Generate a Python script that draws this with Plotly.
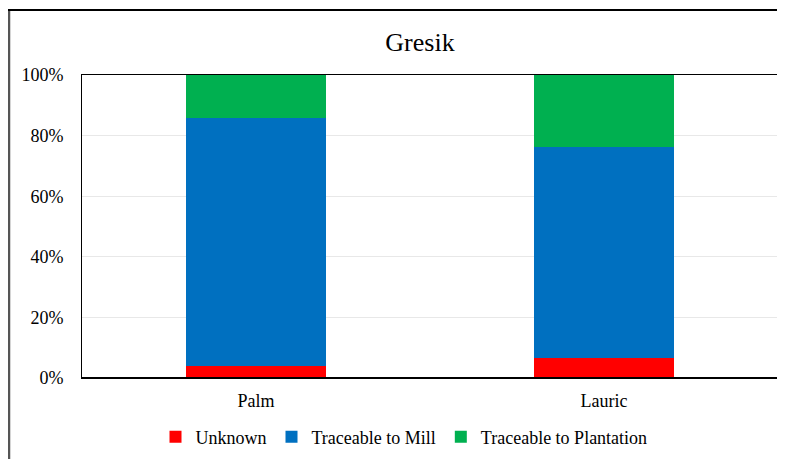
import plotly.graph_objects as go

categories = ["Palm", "Lauric"]
unknown = [4.0, 6.7]
traceable_mill = [81.8, 69.4]
traceable_plantation = [14.2, 23.9]

series_names = ["Unknown", "Traceable to Mill", "Traceable to Plantation"]
series_colors = ["#FF0000", "#0070C0", "#00B050"]
series_values = [unknown, traceable_mill, traceable_plantation]

# page body has an 8px margin, so the figure is placed 8px in
W, H = 777, 451
ML, MR, MT, MB = 74, 7, 67, 81
PW = W - ML - MR
PH = H - MT - MB

fig = go.Figure()
for name, color, vals in zip(series_names, series_colors, series_values):
    fig.add_trace(go.Bar(
        x=categories, y=vals, name=name,
        marker=dict(color=color, line=dict(width=0)),
        width=0.4,
    ))

font_family = "Liberation Serif"

fig.update_layout(
    width=W, height=H,
    barmode="stack",
    margin=dict(l=ML, r=MR, t=MT, b=MB),
    paper_bgcolor="white",
    plot_bgcolor="white",
    font=dict(family=font_family, size=18, color="#000000"),
    title=dict(text="Gresik", x=(412 - ML) / PW, xref="paper", xanchor="center",
               y=1 - 34 / H, yanchor="middle", font=dict(size=26, family=font_family)),
    showlegend=True,
    legend=dict(orientation="h", x=(396 - ML) / PW, xanchor="center", xref="paper",
                y=1 - 429 / H, yanchor="middle", yref="container",
                font=dict(size=18, family=font_family), traceorder="normal", itemwidth=30),
    xaxis=dict(showline=True, linecolor="#000000", linewidth=1, mirror=True,
               ticks="", showgrid=False, tickfont=dict(size=18, family=font_family),
               ticklabelstandoff=6),
    yaxis=dict(range=[0, 100], tickvals=[0, 20, 40, 60, 80, 100],
               ticktext=["0%", "20%", "40%", "60%", "80%", "100%"],
               showgrid=True, gridcolor="#E8E8E8", gridwidth=1,
               showline=True, linecolor="#000000", linewidth=1, mirror=True,
               ticks="", zeroline=False, tickfont=dict(size=18, family=font_family),
               ticklabelstandoff=14),
)

# bottom axis emphasized line
fig.add_shape(type="line", xref="paper", yref="paper", x0=0, x1=1, y0=0, y1=0,
              line=dict(color="#000000", width=2))
# outer chart border (left and top)
fig.add_shape(type="line", xref="paper", yref="paper",
              x0=(1 - ML) / PW, x1=(1 - ML) / PW,
              y0=-(MB + 5) / PH, y1=1 + (MT - 2) / PH,
              line=dict(color="#555555", width=2.5))
fig.add_shape(type="line", xref="paper", yref="paper",
              x0=(0 - ML) / PW, x1=(W - ML) / PW,
              y0=1 + (MT - 2) / PH, y1=1 + (MT - 2) / PH,
              line=dict(color="#000000", width=2))

fig.write_html("out.html")
